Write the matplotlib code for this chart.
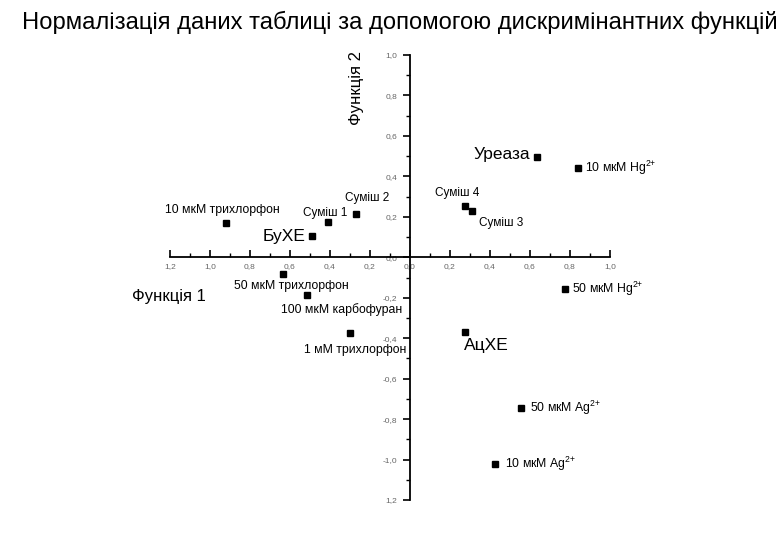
import matplotlib
matplotlib.use('Agg')
import matplotlib.pyplot as plt
from matplotlib.ticker import MultipleLocator, FixedLocator, FixedFormatter

plt.rcParams['font.family'] = ['Liberation Sans', 'DejaVu Sans']
plt.rcParams['mathtext.fontset'] = 'custom'
plt.rcParams['mathtext.rm'] = 'Liberation Sans'

# discriminant function scores
names = ['10 мкМ трихлорфон', 'Суміш 1', 'Суміш 2', 'БуХЕ', 'Уреаза',
         '10 мкМ Hg$^{2{+}}$', 'Суміш 4', 'Суміш 3', '50 мкМ трихлорфон',
         '100 мкМ карбофуран', '1 мМ трихлорфон', 'АцХЕ', '50 мкМ Hg$^{2{+}}$',
         '50 мкМ Ag$^{2{+}}$', '10 мкМ Ag$^{2{+}}$']
func1 = [-0.92, -0.41, -0.27, -0.49, 0.635, 0.84, 0.275, 0.31, -0.635,
         -0.515, -0.30, 0.275, 0.775, 0.555, 0.425]
func2 = [0.168, 0.173, 0.213, 0.104, 0.495, 0.44, 0.252, 0.228, -0.084,
         -0.188, -0.376, -0.371, -0.158, -0.743, -1.02]

ticks = [-1.2, -1.0, -0.8, -0.6, -0.4, -0.2, 0.0, 0.2, 0.4, 0.6, 0.8, 1.0]
xticklabels = ['1,2', '1,0', '0,8', '0,6', '0,4', '0,2', '0,0',
               '0,2', '0,4', '0,6', '0,8', '1,0']
yticklabels = ['1,2', '-1,0', '-0,8', '-0,6', '-0,4', '-0,2', '0,0',
               '0,2', '0,4', '0,6', '0,8', '1,0']

# label placement: (dx, dy) in pixels, ha, size
layout = {
    '10 мкМ трихлорфон': (-4, 13, 'center', 8.8),
    'Суміш 1': (-3, 9, 'center', 8.5),
    'Суміш 2': (11, 16, 'center', 8.5),
    'БуХЕ': (-7, 0, 'right', 12.5),
    'Уреаза': (-7, 3, 'right', 12.5),
    '10 мкМ Hg$^{2{+}}$': (7, 0, 'left', 8.8),
    'Суміш 4': (-8, 13, 'center', 8.5),
    'Суміш 3': (7, -12, 'left', 8.5),
    '50 мкМ трихлорфон': (8, -12, 'center', 8.8),
    '100 мкМ карбофуран': (35, -14, 'center', 8.8),
    '1 мМ трихлорфон': (5, -17, 'center', 8.8),
    'АцХЕ': (-1, -13, 'left', 12.5),
    '50 мкМ Hg$^{2{+}}$': (7, 0, 'left', 8.8),
    '50 мкМ Ag$^{2{+}}$': (9, 0, 'left', 8.8),
    '10 мкМ Ag$^{2{+}}$': (10, 0, 'left', 8.8),
}

fig = plt.figure(figsize=(7.8, 5.4), dpi=100)
ax = fig.add_axes([170 / 780, 1 - 500 / 540, 440 / 780, 445 / 540])
ax.set_xlim(-1.2, 1.0)
ax.set_ylim(-1.2, 1.0)

for s in ['top', 'right']:
    ax.spines[s].set_visible(False)
ax.spines['left'].set_position(('data', 0))
ax.spines['bottom'].set_position(('data', 0))
ax.spines['left'].set_linewidth(1.3)
ax.spines['bottom'].set_linewidth(1.3)

ax.xaxis.set_major_locator(FixedLocator(ticks))
ax.xaxis.set_major_formatter(FixedFormatter(xticklabels))
ax.yaxis.set_major_locator(FixedLocator(ticks))
ax.yaxis.set_major_formatter(FixedFormatter(yticklabels))
ax.xaxis.set_minor_locator(MultipleLocator(0.1))
ax.yaxis.set_minor_locator(MultipleLocator(0.1))
ax.tick_params(axis='x', which='both', direction='in', labelsize=6,
               labelcolor='#666666', pad=4)
ax.tick_params(axis='y', which='both', direction='out', labelsize=6,
               labelcolor='#666666', pad=4)
ax.tick_params(which='major', length=5, width=1.2)
ax.tick_params(which='minor', length=3, width=1.0)

ax.plot(func1, func2, 's', color='black', markersize=5, linestyle='none')

for n, x, y in zip(names, func1, func2):
    dx, dy, ha, size = layout[n]
    ax.annotate(n, (x, y), xytext=(dx, dy), textcoords='offset pixels',
                ha=ha, va='center', fontsize=size)

fig.text(132 / 780, 1 - 297 / 540, 'Функція 1', fontsize=12, va='center')
fig.text(357 / 780, 1 - 88 / 540, 'Функція 2', fontsize=12, rotation=90,
         ha='center', va='center')
fig.text(22 / 780, 1 - 22 / 540,
         'Нормалізація даних таблиці за допомогою дискримінантних функцій',
         fontsize=17.1, va='center')

fig.savefig('out.png', dpi=100)
